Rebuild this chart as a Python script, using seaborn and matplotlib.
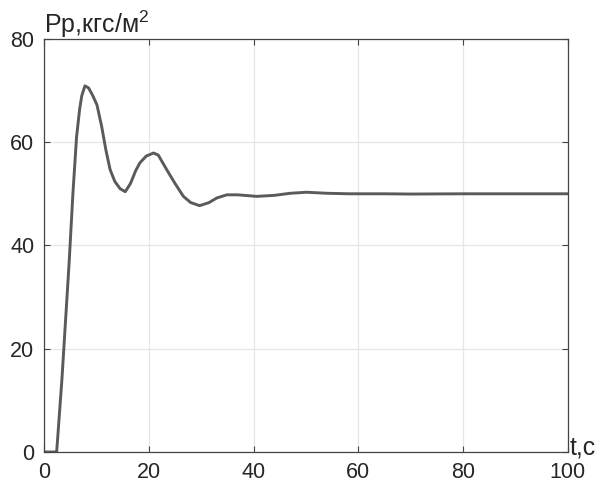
import numpy as np
import pandas as pd
import seaborn as sns
import matplotlib.pyplot as plt

# значения (переходный процесс давления)
t_values = [0, 2.4, 3.4, 4.8, 5.5, 6.2, 6.8, 7.2, 7.8, 8.5, 9.3, 10.1, 11.0, 11.8,
            12.6, 13.5, 14.5, 15.5, 16.5, 17.5, 18.3, 19.5, 20.9, 21.8, 23.4,
            25.0, 26.6, 28.0, 29.7, 31.5, 33.0, 34.9, 37.0, 40.6, 44.0, 47.0,
            50.1, 54.0, 58.4, 65.0, 70.0, 80.0, 90.0, 100.0]
p_values = [0, 0, 14, 37, 50, 61, 66.5, 69, 70.9, 70.5, 69, 67.2, 63, 58.5,
            54.7, 52.4, 51, 50.4, 52, 54.5, 56, 57.3, 57.9, 57.5, 54.7,
            52, 49.5, 48.3, 47.7, 48.3, 49.2, 49.8, 49.8, 49.5, 49.7, 50.1,
            50.3, 50.1, 50.0, 50.0, 49.95, 50.0, 50.0, 50.0]

x_ticks = [0, 20, 40, 60, 80, 100]
y_ticks = [0, 20, 40, 60, 80]

df = pd.DataFrame({'t': t_values, 'P': p_values})

sns.set_style("whitegrid")
plt.rcParams['font.family'] = ['Liberation Sans', 'DejaVu Sans']
plt.rcParams['mathtext.fontset'] = 'custom'
plt.rcParams['mathtext.rm'] = 'Liberation Sans'

fig = plt.figure(figsize=(6.04, 4.86), dpi=100)
ax = fig.add_axes([0.073, 0.070, 0.867, 0.850])

sns.lineplot(data=df, x='t', y='P', color='#5a5a5a', linewidth=2.1, ax=ax)

ax.set_xlim(0, 100)
ax.set_ylim(0, 80)
ax.set_xticks(x_ticks)
ax.set_yticks(y_ticks)
ax.set_xlabel('')
ax.set_ylabel('')

ax.grid(True, color='#e6e6e6', linewidth=0.9)
for side in ['left', 'right', 'top', 'bottom']:
    ax.spines[side].set_visible(True)
    ax.spines[side].set_color('#444444')
    ax.spines[side].set_linewidth(0.9)

ax.tick_params(direction='in', length=4, width=0.8, color='#444444',
               labelsize=15.5, labelcolor='#262626', pad=7,
               top=True, right=True, bottom=True, left=True)

ax.text(0.0, 1.015, 'Рр,кгс/м$^{2}$', transform=ax.transAxes,
        fontsize=18, color='#262626', ha='left', va='baseline')
ax.text(1.003, -0.007, 't,с', transform=ax.transAxes,
        fontsize=18, color='#262626', ha='left', va='baseline')

plt.savefig('out.png', dpi=100)
plt.close()
